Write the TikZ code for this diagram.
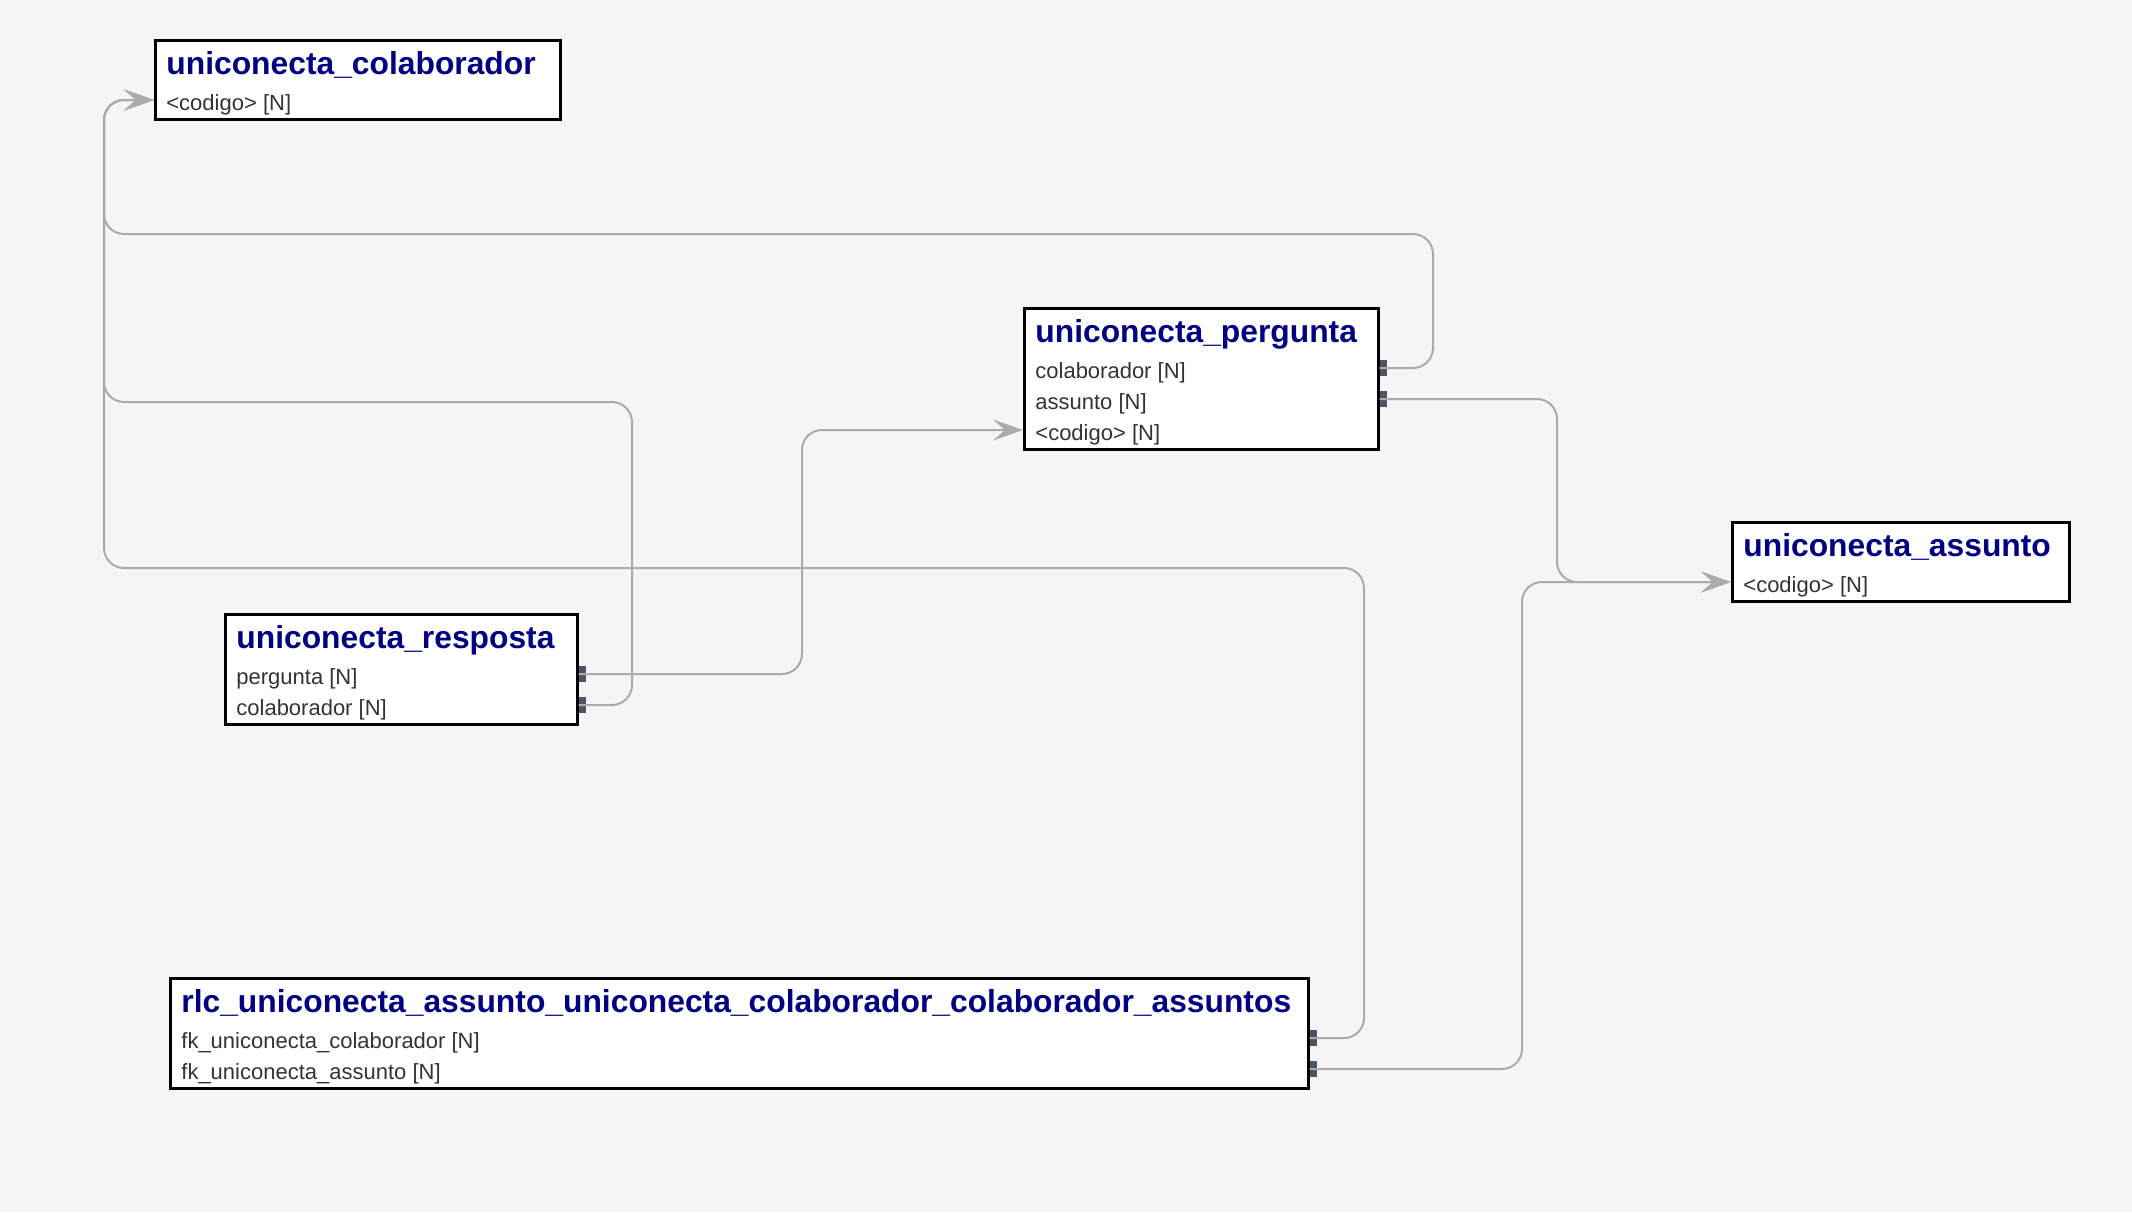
\documentclass[tikz,border=0pt]{standalone}
\usepackage{fontspec}
\setmainfont{Liberation Sans}
\usetikzlibrary{arrows.meta}
\definecolor{fundo}{HTML}{F5F5F5}
\definecolor{titulo}{HTML}{000080}
\definecolor{texto}{HTML}{333333}
\definecolor{ligacao}{HTML}{ABABAB}
\definecolor{chave}{HTML}{4B5563}

\begin{document}
\begin{tikzpicture}[x=0.5pt,y=-0.5pt,
  tabela/.style={draw=black, line width=1.3pt, fill=white, anchor=north west, inner sep=0pt},
  nome/.style={anchor=base west, inner sep=0pt, text=titulo, font=\fontsize{15.9}{18}\selectfont\bfseries},
  campo/.style={anchor=west, inner sep=0pt, text height=12pt, text depth=2pt, text=texto, font=\fontsize{11}{13}\selectfont},
  fk/.style={fill=chave, anchor=west, minimum width=3.5pt, minimum height=8pt, inner sep=0pt},
  rel/.style={draw=ligacao, line width=1pt, rounded corners=10pt, -{Stealth[length=15pt,width=10.5pt,inset=6pt]}}]
    \fill[fundo] (0,0) rectangle (2132,1212);
    % tabelas
    \node[tabela, minimum width=202.5pt, minimum height=39.5pt] (cl) at (154,39) {};
    \node[nome] at ([shift={(12,35)}]cl.north west) {uniconecta\_colaborador};
    \node[campo] (cl-c1) at ([shift={(12,61)}]cl.north west) {<codigo> [N]};

    \node[tabela, minimum width=177pt, minimum height=70.5pt] (pg) at (1023,307) {};
    \node[nome] at ([shift={(12,35)}]pg.north west) {uniconecta\_pergunta};
    \node[campo] (pg-c1) at ([shift={(12,61)}]pg.north west) {colaborador [N]};
    \node[campo] (pg-c2) at ([shift={(12,92)}]pg.north west) {assunto [N]};
    \node[campo] (pg-c3) at ([shift={(12,123)}]pg.north west) {<codigo> [N]};

    \node[tabela, minimum width=168.5pt, minimum height=39.5pt] (as) at (1731,521) {};
    \node[nome] at ([shift={(12,35)}]as.north west) {uniconecta\_assunto};
    \node[campo] (as-c1) at ([shift={(12,61)}]as.north west) {<codigo> [N]};

    \node[tabela, minimum width=176pt, minimum height=55pt] (rs) at (224,613) {};
    \node[nome] at ([shift={(12,35)}]rs.north west) {uniconecta\_resposta};
    \node[campo] (rs-c1) at ([shift={(12,61)}]rs.north west) {pergunta [N]};
    \node[campo] (rs-c2) at ([shift={(12,92)}]rs.north west) {colaborador [N]};

    \node[tabela, minimum width=569pt, minimum height=55pt] (rl) at (169,977) {};
    \node[nome] at ([shift={(12,35)}]rl.north west) {rlc\_uniconecta\_assunto\_uniconecta\_colaborador\_colaborador\_assuntos};
    \node[campo] (rl-c1) at ([shift={(12,61)}]rl.north west) {fk\_uniconecta\_colaborador [N]};
    \node[campo] (rl-c2) at ([shift={(12,92)}]rl.north west) {fk\_uniconecta\_assunto [N]};

    % chaves estrangeiras
    \node[fk] (pg-k1) at (pg.east |- pg-c1.west) {};
    \node[fk] (pg-k2) at (pg.east |- pg-c2.west) {};
    \node[fk] (rs-k1) at (rs.east |- rs-c1.west) {};
    \node[fk] (rs-k2) at (rs.east |- rs-c2.west) {};
    \node[fk] (rl-k1) at (rl.east |- rl-c1.west) {};
    \node[fk] (rl-k2) at (rl.east |- rl-c2.west) {};

    \coordinate (cl-in) at (cl-c1.west -| cl.west);
    \coordinate (pg-in) at (pg-c3.west -| pg.west);
    \coordinate (as-in) at (as-c1.west -| as.west);

    % ligacoes
    \draw[rel] (pg-k1.west) -| (1433,234) -| ([xshift=-25pt]cl-in) -- (cl-in);
    \draw[rel] (rs-k2.west) -| (632,402) -| ([xshift=-25pt]cl-in) -- (cl-in);
    \draw[rel] (rl-k1.west) -| (1364,568) -| ([xshift=-25pt]cl-in) -- (cl-in);
    \draw[rel] (rs-k1.west) -| ([xshift=-110.5pt]pg-in) -- (pg-in);
    \draw[rel] (pg-k2.west) -| ([xshift=-87pt]as-in) -- (as-in);
    \draw[rel] (rl-k2.west) -| ([xshift=-104.5pt]as-in) -- (as-in);
\end{tikzpicture}
\end{document}
